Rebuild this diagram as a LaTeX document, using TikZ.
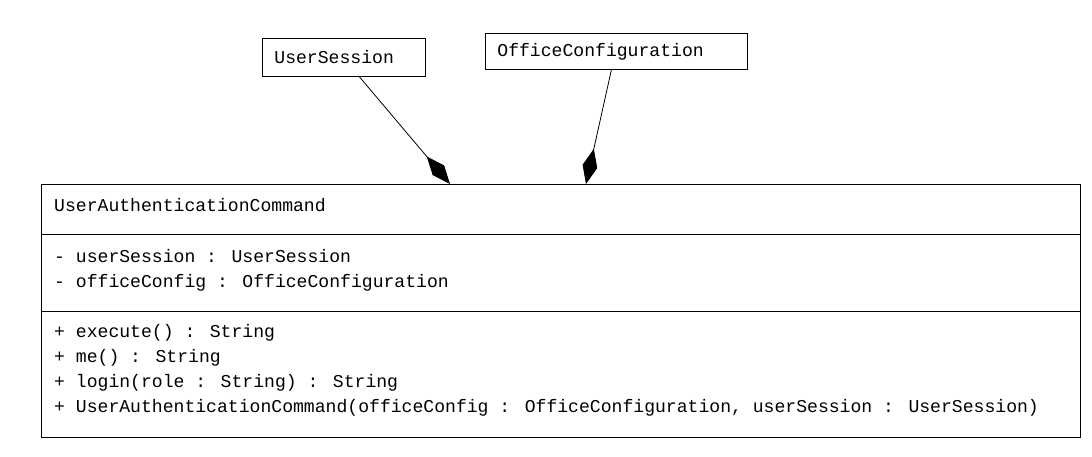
\documentclass[tikz,border=0pt]{standalone}
\usepackage{fontspec}
\setmainfont{Liberation Mono}
\usetikzlibrary{arrows.meta}

\tikzset{
	umlbox/.style={draw,line width=0.8pt,anchor=north west,inner xsep=12pt,inner ysep=0pt,align=left},
	umltext/.style={anchor=base west,inner sep=0pt},
	composition/.style={line width=0.8pt,-{Diamond[length=36pt,width=15pt,fill=black]}}
}

\begin{document}
\begin{tikzpicture}[x=1pt,y=-1pt,font=\fontsize{18.1}{22}\selectfont]
	\useasboundingbox[fill=white] (0,0) rectangle (1092,456);
	\node[umlbox,text width=139pt,minimum height=38pt] (session) at (262,38) {UserSession};
	\node[umlbox,text width=238pt,minimum height=36pt] (office) at (485,33) {OfficeConfiguration};
	\node[draw,line width=0.8pt,anchor=north west,minimum width=1039pt,minimum height=253pt] (cmd) at (41,184) {};
	\draw[line width=0.8pt] (cmd.north west) ++(0,50) -- ++(1039,0);
	\draw[line width=0.8pt] (cmd.north west) ++(0,127) -- ++(1039,0);
	\node[umltext] (title) at (54,211) {UserAuthenticationCommand};
	\node[umltext] (attr1) at (54,262) {- userSession : UserSession};
	\node[umltext] (attr2) at (54,287) {- officeConfig : OfficeConfiguration};
	\foreach \k/\txt in {0/{+ execute() : String},1/{+ me() : String},2/{+ login(role : String) : String},3/{+ UserAuthenticationCommand(officeConfig : OfficeConfiguration, userSession : UserSession)}}{
		\node[umltext] (op\k) at (54,337+25*\k) {\txt};
	}
	\coordinate (sessionend) at (450,184);
	\coordinate (officeend) at (586,184);
	\draw[composition] ([xshift=15.5pt]session.south) -- (sessionend);
	\draw[composition] ([xshift=-5pt]office.south) -- (officeend);
\end{tikzpicture}
\end{document}
